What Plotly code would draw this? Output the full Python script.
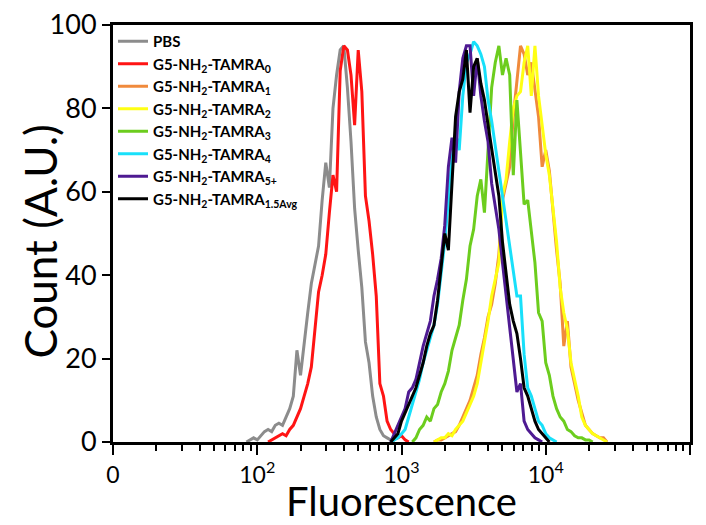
import numpy as np
import plotly.graph_objects as go

# Histogram bins are evenly spaced in log10(fluorescence)
bin_step = 0.025

series_names = [
    "PBS",
    "G5-NH<sub>2</sub>-TAMRA<sub>0</sub>",
    "G5-NH<sub>2</sub>-TAMRA<sub>1</sub>",
    "G5-NH<sub>2</sub>-TAMRA<sub>2</sub>",
    "G5-NH<sub>2</sub>-TAMRA<sub>3</sub>",
    "G5-NH<sub>2</sub>-TAMRA<sub>4</sub>",
    "G5-NH<sub>2</sub>-TAMRA<sub>5+</sub>",
    "G5-NH<sub>2</sub>-TAMRA<sub>1.5Avg</sub>",
]
series_colors = ["#8c8c8c", "#ff1414", "#f08a3c", "#ffff14",
                 "#6ccd1e", "#18e0fa", "#4e1a92", "#000000"]

# log10 of the first bin of each histogram
start_pbs = 1.925
start_t0 = 2.075
start_t1 = 3.225
start_t2 = 3.225
start_t3 = 3.075
start_t4 = 2.925
start_t5 = 2.925
start_avg = 2.925

count_pbs = [0, 0.5, 1, 0.5, 1.5, 2.5, 3, 2.5, 4, 4.5, 4, 6, 8, 11, 22, 16, 24, 31,
             38, 43, 47, 58, 67, 61, 80, 88, 94, 95, 85, 72, 56, 46, 37, 24, 19,
             11, 6, 3, 1.5, 1, 0.5, 0]
count_t0 = [0, 0.5, 1, 1.5, 2, 1.5, 3, 4, 6, 8, 11, 14, 18, 27, 36, 40, 45, 55,
            64, 60, 89, 95, 94, 88, 76, 94, 84, 59, 53, 45, 35, 14, 11, 5, 3, 2,
            1, 1.5, 0.5, 0]
count_t1 = [0, 0.5, 0.5, 1, 1.5, 2, 2.5, 4, 6, 8, 10, 13, 16, 21, 25, 30, 33, 38,
            45, 58, 62, 66, 78, 86, 95, 93, 88, 91, 84, 78, 66, 70, 65, 55, 46,
            38, 23, 29, 18, 14, 10, 7, 4, 3, 2, 1.5, 1, 1, 0]
count_t2 = [0, 0.5, 1, 1, 2, 1.5, 3, 4, 5, 7, 9, 11, 14, 19, 23, 29, 35, 39, 43,
            59, 63, 72, 80, 83, 84, 91, 95, 83, 95, 83, 76, 69, 64, 56, 48, 37,
            31, 27, 19, 15, 11, 6, 4, 3, 2, 1.5, 1, 0.5, 0]
count_t3 = [0, 1, 3, 4, 6, 5, 8, 9, 12, 14, 17, 22, 25, 28, 34, 39, 47, 51, 59,
            63, 55, 70, 85, 91, 95, 88, 92, 88, 64, 82, 70, 57, 58, 50, 43, 31,
            29, 19, 16, 11, 8, 6, 5, 3, 2.5, 1.5, 1, 1, 0.5, 0.5, 0]
count_t4 = [0, 0.5, 1, 2, 3, 6, 9, 12, 15, 19, 22, 25, 28, 33, 40, 48, 58, 68,
            74, 70, 83, 91, 93, 96, 95, 93, 90, 82, 77, 71, 64, 59, 52, 46, 40,
            35, 35, 21, 13, 11, 8, 5, 4, 2, 1, 0.5, 0]
count_t5 = [0, 2, 4, 6, 8, 12, 13, 15, 19, 23, 26, 29, 35, 39, 44, 52, 66, 73,
            67, 84, 92, 95, 95, 83, 92, 83, 77, 72, 62, 56, 51, 43, 35, 28, 19,
            12, 14, 5, 3, 2, 1, 0.5, 0]
count_avg = [0, 1, 2, 5, 7, 9, 11, 13, 16, 19, 23, 26, 28, 34, 42, 50, 46, 62,
             78, 84, 87, 94, 79, 90, 92, 86, 82, 76, 70, 65, 59, 48, 40, 33, 29,
             26, 20, 13, 11, 8, 5, 3, 2, 1, 0]

starts = [start_pbs, start_t0, start_t1, start_t2, start_t3, start_t4,
          start_t5, start_avg]
counts = [count_pbs, count_t0, count_t1, count_t2, count_t3, count_t4,
          count_t5, count_avg]

# Axis ticks: the lowest decade is shown as "0" (biexponential-style display)
major_ticks = [10, 100, 1000, 10000, 100000]
major_labels = ["0", "10<sup>2</sup>", "10<sup>3</sup>", "10<sup>4</sup>",
                "10<sup>5</sup>"]
minor_ticks = [m * d for d in (10, 100, 1000, 10000) for m in range(2, 10)]
y_ticks = [0, 20, 40, 60, 80, 100]

font_family = "Lato, 'Liberation Sans', sans-serif"

fig = go.Figure()
for name, color, start, cnt in zip(series_names, series_colors, starts, counts):
    logx = start + bin_step * np.arange(len(cnt))
    fig.add_trace(go.Scatter(
        x=10 ** logx, y=cnt, mode="lines", name=name,
        line=dict(color=color, width=3),
    ))

fig.update_layout(
    width=706, height=525,
    margin=dict(l=113, r=16, t=25, b=83, autoexpand=False),
    paper_bgcolor="white", plot_bgcolor="white",
    font=dict(family=font_family, color="black"),
    showlegend=True,
    legend=dict(
        x=0.0, y=1.0, xanchor="left", yanchor="top",
        bgcolor="rgba(0,0,0,0)", borderwidth=0,
        font=dict(size=15, family=font_family, color="black", weight="bold"),
        itemwidth=30, tracegroupgap=0,
    ),
    annotations=[dict(
        text="Count (A.U.)", textangle=-90,
        xref="paper", yref="paper", x=-0.127, y=0.48,
        xanchor="center", yanchor="middle", showarrow=False,
        font=dict(size=44, family=font_family, color="black"),
    )],
)

fig.update_xaxes(
    type="log", range=[1, 5], automargin=False,
    tickvals=major_ticks, ticktext=major_labels,
    ticks="outside", ticklen=10, tickwidth=2, tickcolor="black",
    tickfont=dict(size=23, family=font_family),
    showline=True, linewidth=3, linecolor="black", mirror=True,
    showgrid=False, zeroline=False,
    minor=dict(tickvals=minor_ticks, ticks="outside", ticklen=6,
               tickwidth=2, tickcolor="black", showgrid=False),
    title=dict(text="Fluorescence", font=dict(size=40, family=font_family),
               standoff=13),
)
fig.update_yaxes(
    range=[0, 100], tickvals=y_ticks, automargin=False,
    ticks="outside", ticklen=8, tickwidth=2, tickcolor="black",
    tickfont=dict(size=27, family=font_family),
    showline=True, linewidth=3, linecolor="black", mirror=True,
    showgrid=False, zeroline=False,
)

fig.write_html("out.html")
